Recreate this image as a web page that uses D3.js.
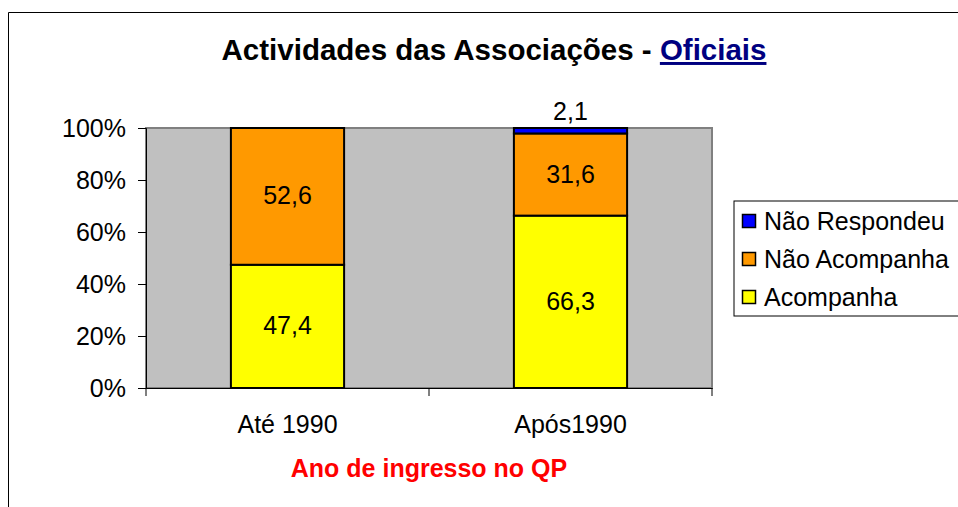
<!DOCTYPE html>
<html>
<head>
<meta charset="utf-8">
<script src="https://cdn.jsdelivr.net/npm/d3@7"></script>
<style>
  body { margin: 0; background: #fff; }
  svg text { font-family: "Liberation Sans", Arial, sans-serif; }
</style>
</head>
<body>
<svg id="chart" width="958" height="507"></svg>
<script>
// data
const categories = ['Até 1990', 'Após1990'];
const series = ['Acompanha', 'Não Acompanha', 'Não Respondeu'];
const acompanha = [47.4, 66.3];
const naoAcompanha = [52.6, 31.6];
const naoRespondeu = [0, 2.1];
const yTicks = [0, 20, 40, 60, 80, 100];
const colors = ['#FFFF00', '#FF9900', '#0000FF'];

const width = 958, height = 507;
const margin = { top: 128, right: 246, bottom: 119, left: 146 };
const fs = 25;

const svg = d3.select('#chart');

// outer chart frame (cut off at right and bottom)
svg.append('path')
  .attr('d', 'M8.5,' + height + 'V12.5H' + width)
  .attr('fill', 'none')
  .attr('stroke', '#000')
  .attr('stroke-width', 1);

const rows = categories.map((c, i) => ({
  cat: c,
  'Acompanha': acompanha[i],
  'Não Acompanha': naoAcompanha[i],
  'Não Respondeu': naoRespondeu[i]
}));
const values = { 'Acompanha': acompanha, 'Não Acompanha': naoAcompanha, 'Não Respondeu': naoRespondeu };
const stacked = d3.stack().keys(series)(rows);

const x = d3.scaleBand()
  .domain(categories)
  .range([margin.left, width - margin.right])
  .paddingInner(0.6)
  .paddingOuter(0.3);

const y = d3.scaleLinear()
  .domain([0, 100])
  .range([height - margin.bottom, margin.top]);

// plot background
svg.append('rect')
  .attr('x', margin.left)
  .attr('y', margin.top)
  .attr('width', width - margin.right - margin.left)
  .attr('height', y(0) - y(100))
  .attr('fill', '#C0C0C0')
  .attr('stroke', '#808080')
  .attr('stroke-width', 2);

// bars
svg.append('g').selectAll('g')
  .data(stacked)
  .join('g')
  .attr('fill', (d, i) => colors[i])
  .selectAll('rect')
  .data(d => d.filter(s => s[1] - s[0] > 0))
  .join('rect')
  .attr('x', d => x(d.data.cat))
  .attr('y', d => y(d[1]))
  .attr('width', x.bandwidth())
  .attr('height', d => y(d[0]) - y(d[1]))
  .attr('stroke', '#000')
  .attr('stroke-width', 2);

// value labels
const fmt = v => v.toFixed(1).replace('.', ',');
stacked.forEach(layer => {
  layer.forEach((seg, i) => {
    const v = values[layer.key][i];
    if (v <= 0) return;
    const cx = x(seg.data.cat) + x.bandwidth() / 2;
    const small = v < 5;
    svg.append('text')
      .attr('x', cx)
      .attr('y', small ? y(seg[1]) - 8 : (y(seg[0]) + y(seg[1])) / 2 + 8)
      .attr('text-anchor', 'middle')
      .attr('font-size', fs)
      .text(fmt(v));
  });
});

// y axis
const yAxis = svg.append('g')
  .attr('transform', 'translate(' + margin.left + ',0)')
  .call(d3.axisLeft(y).tickValues(yTicks).tickFormat(d => d + '%').tickSize(8).tickPadding(12));
yAxis.select('.domain').attr('stroke', '#000');
yAxis.selectAll('text').attr('font-size', fs).attr('fill', '#000')
  .style('font-family', '"Liberation Sans", Arial, sans-serif');

// x axis
const xAxis = svg.append('g')
  .attr('transform', 'translate(0,' + y(0) + ')')
  .call(d3.axisBottom(x).tickSize(0).tickPadding(27));
xAxis.select('.domain').attr('stroke', '#000');
xAxis.selectAll('text').attr('font-size', fs).attr('fill', '#000')
  .style('font-family', '"Liberation Sans", Arial, sans-serif');
// category boundary ticks
const bounds = [margin.left, margin.left + (width - margin.right - margin.left) / 2, width - margin.right];
xAxis.selectAll('.bound')
  .data(bounds)
  .join('line')
  .attr('x1', d => d).attr('x2', d => d)
  .attr('y1', 0).attr('y2', 8)
  .attr('stroke', '#000');

// x axis title
svg.append('text')
  .attr('x', (margin.left + width - margin.right) / 2)
  .attr('y', 477)
  .attr('text-anchor', 'middle')
  .attr('font-size', 25)
  .attr('font-weight', 'bold')
  .attr('fill', '#FF0000')
  .text('Ano de ingresso no QP');

// title
const title = svg.append('text')
  .attr('x', 494)
  .attr('y', 60)
  .attr('text-anchor', 'middle')
  .attr('font-size', 29.5)
  .attr('font-weight', 'bold');
title.append('tspan').text('Actividades das Associações - ');
title.append('tspan').attr('fill', '#000080').attr('text-decoration', 'underline').text('Oficiais');

// legend
const legend = svg.append('g').attr('transform', 'translate(734,201)');
legend.append('rect')
  .attr('width', 240).attr('height', 115)
  .attr('fill', '#fff').attr('stroke', '#000');
const legendItems = series.slice().reverse();
const legendColors = colors.slice().reverse();
legendItems.forEach((s, i) => {
  const gy = 20 + i * 38;
  legend.append('rect')
    .attr('x', 8.5).attr('y', gy - 6.5)
    .attr('width', 13).attr('height', 13)
    .attr('fill', legendColors[i]).attr('stroke', '#000').attr('stroke-width', 1.5);
  legend.append('text')
    .attr('x', 30).attr('y', gy + 9)
    .attr('font-size', fs)
    .text(s);
});
</script>
</body>
</html>
